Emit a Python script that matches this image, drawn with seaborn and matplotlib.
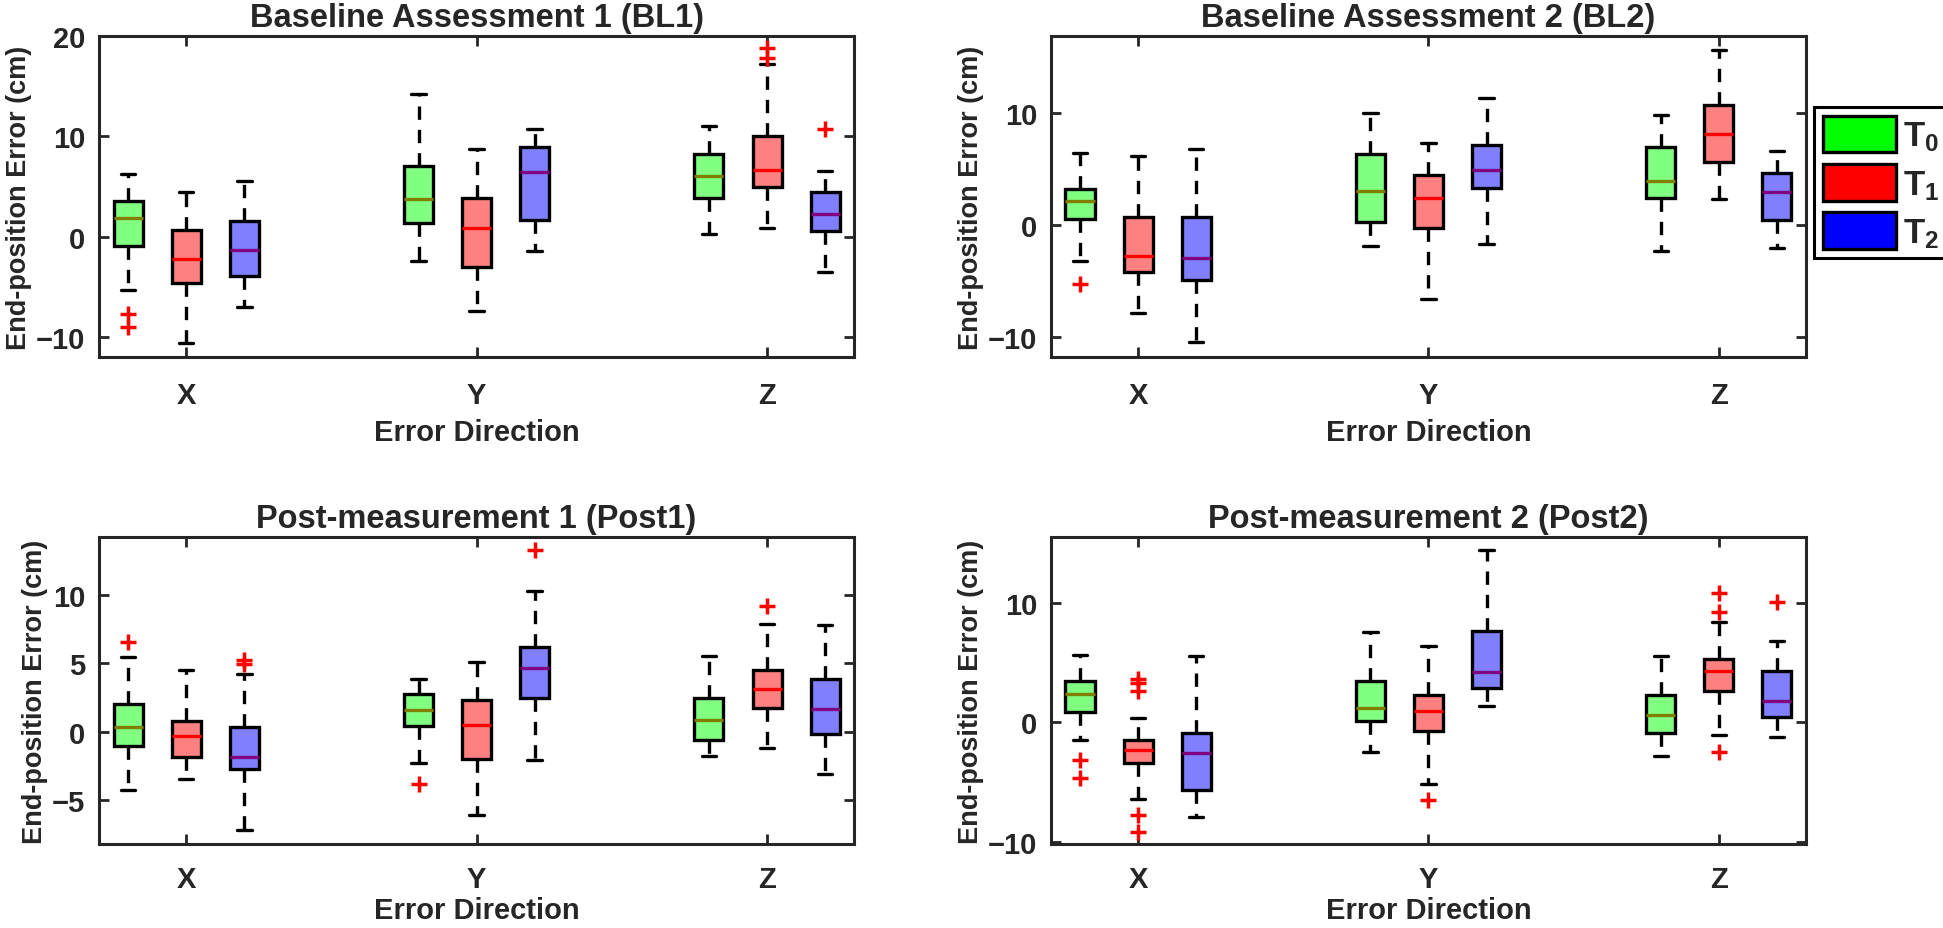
import numpy as np
import matplotlib
matplotlib.use("Agg")
import matplotlib.pyplot as plt
import seaborn as sns
from matplotlib.patches import Patch
from matplotlib.ticker import MultipleLocator

# Panels, error directions and time points
panel_titles = ["Baseline Assessment 1 (BL1)", "Baseline Assessment 2 (BL2)",
                "Post-measurement 1 (Post1)", "Post-measurement 2 (Post2)"]
directions = ["X", "Y", "Z"]
timepoints = ["T$_0$", "T$_1$", "T$_2$"]

# Box statistics per panel, order: X-T0, X-T1, X-T2, Y-T0, ..., Z-T2
whis_lo = [[-5.3, -10.57, -7.0, -2.4, -7.4, -1.47, 0.27, 0.9, -3.5],
           [-3.19, -7.9, -10.5, -1.85, -6.57, -1.73, -2.3, 2.3, -2.09],
           [-4.25, -3.47, -7.2, -2.31, -6.07, -2.06, -1.77, -1.17, -3.08],
           [-1.53, -6.4, -7.98, -2.5, -5.15, 1.34, -2.87, -1.11, -1.25]]
q1 = [[-0.9, -4.63, -3.97, 1.37, -3.03, 1.63, 3.87, 4.93, 0.6],
      [0.54, -4.24, -4.9, 0.24, -0.27, 3.28, 2.42, 5.61, 0.48],
      [-1.02, -1.82, -2.72, 0.44, -1.99, 2.48, -0.56, 1.77, -0.19],
      [0.89, -3.39, -5.7, 0.06, -0.75, 2.89, -0.92, 2.59, 0.42]]
medians = [[1.87, -2.2, -1.33, 3.77, 0.9, 6.4, 6.0, 6.6, 2.23],
           [2.18, -2.75, -2.96, 3.04, 2.42, 4.96, 3.94, 8.15, 2.96],
           [0.36, -0.29, -1.84, 1.63, 0.49, 4.68, 0.85, 3.16, 1.67],
           [2.36, -2.31, -2.56, 1.17, 0.97, 4.17, 0.64, 4.31, 1.75]]
q3 = [[3.53, 0.7, 1.6, 7.0, 3.9, 8.93, 8.27, 10.03, 4.43],
      [3.25, 0.69, 0.75, 6.39, 4.5, 7.13, 6.96, 10.75, 4.66],
      [2.01, 0.78, 0.36, 2.74, 2.31, 6.17, 2.5, 4.51, 3.88],
      [3.42, -1.47, -0.89, 3.48, 2.28, 7.65, 2.28, 5.29, 4.26]]
whis_hi = [[6.27, 4.5, 5.6, 14.2, 8.77, 10.7, 11.0, 17.2, 6.53],
           [6.45, 6.2, 6.8, 10.03, 7.34, 11.37, 9.82, 15.67, 6.66],
           [5.46, 4.51, 4.2, 3.83, 5.1, 10.27, 5.53, 7.91, 7.84],
           [5.62, 0.33, 5.56, 7.57, 6.4, 14.38, 5.56, 8.4, 6.82]]
outliers = [[[-7.73, -8.97], [], [], [], [], [], [], [18.77, 17.83], [10.77]],
            [[-5.31], [], [], [], [], [], [], [], []],
            [[6.6], [], [5.22, 4.98], [-3.81], [], [13.28], [], [9.2], []],
            [[-3.2, -4.65], [3.62, 3.28, 2.64, -7.73, -9.18], [], [], [-6.54], [], [],
             [10.85, 9.26, -2.5], [10.07]]]

y_limits = [(-12, 20), (-11.8, 16.9), (-8.2, 14.25), (-10.2, 15.5)]
y_steps = [10, 10, 5, 10]

fill_colors = ["#80ff80", "#ff8080", "#8080ff"]
median_colors = ["#808000", "#ff0000", "#800080"]
legend_colors = ["#00ff00", "#ff0000", "#0000ff"]

sns.set_style("white")
plt.rcParams["font.family"] = ["Liberation Sans", "DejaVu Sans"]
plt.rcParams["font.weight"] = "bold"
plt.rcParams["axes.labelweight"] = "bold"
plt.rcParams["mathtext.fontset"] = "custom"
plt.rcParams["mathtext.bf"] = "Liberation Sans:bold"
plt.rcParams["mathtext.rm"] = "Liberation Sans:bold"
plt.rcParams["mathtext.default"] = "bf"

fig = plt.figure(figsize=(19.43, 9.29), dpi=100)
ax_rects = [[0.0510, 0.6146, 0.3886, 0.3455],
            [0.5409, 0.6146, 0.3886, 0.3455],
            [0.0510, 0.0904, 0.3886, 0.3305],
            [0.5409, 0.0904, 0.3886, 0.3305]]

# Box positions: groups centered at 2, 7, 12
group_centers = [2 + 5 * g for g in range(len(directions))]
positions = [c + t - 1 for c in group_centers for t in range(len(timepoints))]

for p, rect in enumerate(ax_rects):
    ax = fig.add_axes(rect)
    stats = []
    for i in range(len(positions)):
        stats.append(dict(med=medians[p][i], q1=q1[p][i], q3=q3[p][i],
                          whislo=whis_lo[p][i], whishi=whis_hi[p][i],
                          fliers=outliers[p][i]))
    bp = ax.bxp(stats, positions=positions, widths=0.5, capwidths=0.25,
                patch_artist=True, showfliers=True,
                boxprops=dict(edgecolor="black", linewidth=2.4),
                whiskerprops=dict(color="black", linewidth=2.4, linestyle=(0, (4, 3))),
                capprops=dict(color="black", linewidth=2.4),
                medianprops=dict(linewidth=2.4),
                flierprops=dict(marker="+", markeredgecolor="red", markersize=11,
                                markeredgewidth=2.5, linestyle="none"))
    for i, (box, med) in enumerate(zip(bp["boxes"], bp["medians"])):
        box.set_facecolor(fill_colors[i % 3])
        med.set_color(median_colors[i % 3])
        med.set_zorder(box.get_zorder() + 0.5)

    ax.set_xlim(0.5, 13.5)
    ax.set_ylim(*y_limits[p])
    ax.yaxis.set_major_locator(MultipleLocator(y_steps[p]))
    ax.set_xticks(group_centers)
    ax.set_xticklabels(directions)
    bottom_row = p >= 2
    ax.tick_params(axis="both", direction="in", length=7, width=2, labelsize=21,
                   top=True, right=True, bottom=True, left=True, colors="#262626")
    ax.tick_params(axis="x", pad=15 if bottom_row else 17)
    ax.tick_params(axis="y", pad=10)
    for sp in ax.spines.values():
        sp.set_visible(True)
        sp.set_color("#262626")
        sp.set_linewidth(2.2)
    ax.set_title(panel_titles[p], fontsize=23.5, fontweight="bold", pad=7)
    ax.set_xlabel("Error Direction", fontsize=21, fontweight="bold",
                  color="#262626", labelpad=2 if bottom_row else 7)
    ax.set_ylabel("End-position Error (cm)", fontsize=19.5, fontweight="bold",
                  color="#262626", labelpad=3)

handles = [Patch(facecolor=c, edgecolor="black", linewidth=2.4) for c in legend_colors]
leg = fig.legend(handles, timepoints, loc="upper left",
                 bbox_to_anchor=(0.9336, 0.8837), bbox_transform=fig.transFigure,
                 fontsize=25, frameon=True, fancybox=False, edgecolor="black",
                 handlelength=2.1, handleheight=1.25, handletextpad=0.2,
                 labelspacing=0.3, borderpad=0.25, borderaxespad=0)
leg.get_frame().set_linewidth(2.2)
leg.get_frame().set_alpha(1)

plt.savefig("out.png", dpi=100)
